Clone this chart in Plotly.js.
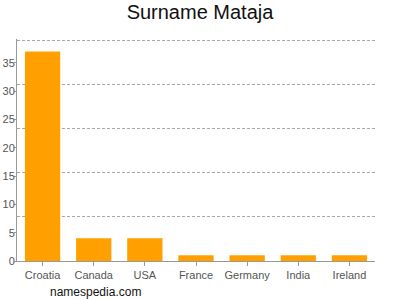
<!DOCTYPE html>
<html><head><meta charset="utf-8">
<script src="https://cdn.plot.ly/plotly-3.0.1.min.js"></script>
<style>html,body{margin:0;padding:0;background:#fff}#c{width:400px;height:300px}</style>
</head><body><div id="c"></div>
<script>
var countries = ["Croatia","Canada","USA","France","Germany","India","Ireland"];
var counts = [37,4,4,1,1,1,1];
var yTicks = [0,5,10,15,20,25,30,35];
var yMax = 39.2;
var gridVals = [7.8,15.6,23.4,31.2,39];

var data = [{
  type:'bar', x:countries, y:counts, marker:{color:'#ffa000'}, hoverinfo:'none'
},{
  type:'scatter', x:countries, y:counts, yaxis:'y2', mode:'none', hoverinfo:'none', showlegend:false
}];
var layout = {
  width:400, height:300, showlegend:false,
  margin:{l:17,r:25,t:39,b:39},
  paper_bgcolor:'#fff', plot_bgcolor:'#fff',
  font:{family:'Liberation Sans, Arial, sans-serif', color:'#555', size:11},
  title:{text:'Surname Mataja', x:0.5, xanchor:'center', y:0.985, yanchor:'top', font:{size:20,color:'#111'}},
  bargap:0.31,
  xaxis:{showline:true, linecolor:'#999', linewidth:1, ticks:'outside', ticklen:4, tickcolor:'#999', showgrid:false, zeroline:false, tickfont:{size:11,color:'#555'}},
  yaxis:{range:[0,yMax], tickvals:yTicks, ticks:'outside', ticklen:2, tickcolor:'#999', ticklabelstandoff:-3, showline:true, linecolor:'#999', linewidth:1, showgrid:false, zeroline:false, tickfont:{size:11,color:'#555'}},
  yaxis2:{range:[0,yMax], overlaying:'y', tickvals:gridVals, showticklabels:false, showgrid:true, gridcolor:'#aaa', griddash:'3px,2px', gridwidth:1, zeroline:false, showline:false, ticks:''},
  annotations:[{text:'namespedia.com', xref:'paper', yref:'paper', x:(48-17)/358, y:-(292-261)/222, xanchor:'left', yanchor:'middle', showarrow:false, font:{size:12,color:'#111'}}]
};
Plotly.newPlot('c', data, layout, {staticPlot:true});
</script></body></html>
